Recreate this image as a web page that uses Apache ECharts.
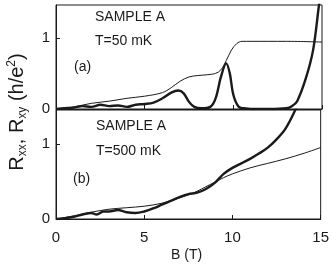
<!DOCTYPE html>
<html>
<head>
<meta charset="utf-8">
<script src="https://cdn.jsdelivr.net/npm/echarts@6/dist/echarts.min.js"></script>
<style>
  html, body { margin: 0; padding: 0; background: #fff; }
  #chart { width: 332px; height: 264px; }
</style>
</head>
<body>
<div id="chart"></div>
<script>
// (a) T=50 mK
const fieldA_xx = [0, 0.5, 1, 1.5, 2, 2.5, 3, 3.5, 4, 4.5, 5, 5.5, 6, 6.5, 6.9, 7.2, 7.5, 7.8, 8.2, 8.7, 9.0, 9.3, 9.6, 9.8, 10.0, 10.3, 10.6, 11, 12, 13, 13.3, 13.6, 14.1, 14.5, 14.8, 15.0];
const rxxA = [0, 0.01, 0.02, 0.04, 0.03, 0.06, 0.04, 0.05, 0.03, 0.06, 0.07, 0.09, 0.15, 0.23, 0.26, 0.22, 0.1, 0.03, 0.01, 0.03, 0.15, 0.45, 0.64, 0.5, 0.2, 0.03, 0.01, 0, 0, 0.01, 0.04, 0.11, 0.44, 0.83, 1.4, 1.8];
const fieldA_xy = [0, 1, 2, 3, 4, 5, 6, 6.5, 7, 7.5, 8, 8.5, 9, 9.3, 9.6, 9.9, 10.2, 10.5, 11, 13, 15];
const rxyA = [0, 0.03, 0.08, 0.11, 0.15, 0.18, 0.23, 0.3, 0.39, 0.45, 0.47, 0.48, 0.5, 0.55, 0.68, 0.83, 0.92, 0.95, 0.95, 0.95, 0.94];

// (b) T=500 mK
const fieldB_xx = [0, 0.5, 1, 1.5, 2, 2.3, 2.7, 3, 3.5, 4, 4.5, 5, 5.5, 6, 6.5, 7, 7.5, 8, 8.5, 9, 9.5, 10, 10.5, 11, 11.5, 12, 12.5, 13, 13.5, 14];
const rxxB = [0, 0.01, 0.03, 0.06, 0.08, 0.06, 0.1, 0.1, 0.12, 0.09, 0.08, 0.1, 0.14, 0.19, 0.24, 0.29, 0.33, 0.35, 0.4, 0.48, 0.6, 0.68, 0.74, 0.8, 0.87, 0.95, 1.06, 1.2, 1.42, 1.7];
const fieldB_xy = [0, 1, 2, 3, 4, 5, 6, 7, 7.5, 8, 8.5, 9, 9.5, 10, 11, 12, 13, 14, 15];
const rxyB = [0, 0.04, 0.09, 0.13, 0.15, 0.17, 0.21, 0.28, 0.32, 0.37, 0.43, 0.49, 0.55, 0.6, 0.68, 0.74, 0.8, 0.87, 0.95];

const xTicks = [0, 5, 10, 15];

const pairs = (xs, ys) => xs.map((x, i) => [x, ys[i]]);

let myChart = echarts.init(document.getElementById('chart'));

const ink = '#1a1a1a';
const font = 'Liberation Sans, Arial, sans-serif';

function xAxisOf (idx, showLabel) {
  return {
    type: 'value', gridIndex: idx, min: 0, max: 15, interval: 5,
    axisLine: { show: true, onZero: false, lineStyle: { color: ink, width: 1 } },
    axisTick: { show: true, inside: true, length: 4, lineStyle: { color: ink } },
    axisLabel: { show: showLabel, color: ink, fontSize: 15, fontFamily: font, margin: 11,
      formatter: v => xTicks.indexOf(v) >= 0 ? String(v) : '' },
    splitLine: { show: false }
  };
}
function yAxisOf (idx, max) {
  return {
    type: 'value', gridIndex: idx, min: 0, max: max, interval: 1,
    axisLine: { show: true, lineStyle: { color: ink, width: 1 } },
    axisTick: { show: true, inside: true, length: 4, lineStyle: { color: ink } },
    axisLabel: { color: ink, fontSize: 15, fontFamily: font, margin: 6, showMaxLabel: false },
    splitLine: { show: false }
  };
}
function line (xi, data, w) {
  return {
    type: 'line', xAxisIndex: xi, yAxisIndex: xi, data: data, smooth: 0.35,
    showSymbol: false, clip: true,
    lineStyle: { color: ink, width: w }
  };
}

const option = {
  animation: false,
  grid: [
    { left: 56, top: 5, width: 266, height: 104, show: true, borderColor: ink, borderWidth: 1 },
    { left: 56, top: 110, width: 266, height: 109, show: true, borderColor: ink, borderWidth: 1 }
  ],
  xAxis: [xAxisOf(0, false), xAxisOf(1, true)],
  yAxis: [yAxisOf(0, 1.46), yAxisOf(1, 1.45)],
  series: [
    line(0, pairs(fieldA_xy, rxyA), 1),
    line(0, pairs(fieldA_xx, rxxA), 2.4),
    line(1, pairs(fieldB_xy, rxyB), 1),
    line(1, pairs(fieldB_xx, rxxB), 2.4)
  ],
  graphic: [
    { type: 'text', left: 95, top: 10, style: { text: 'SAMPLE A', font: '14px ' + font, fill: ink } },
    { type: 'text', left: 95, top: 34, style: { text: 'T=50 mK', font: '14px ' + font, fill: ink } },
    { type: 'text', left: 74, top: 60, style: { text: '(a)', font: '14px ' + font, fill: ink } },
    { type: 'text', left: 96, top: 119, style: { text: 'SAMPLE A', font: '14px ' + font, fill: ink } },
    { type: 'text', left: 96, top: 144, style: { text: 'T=500 mK', font: '14px ' + font, fill: ink } },
    { type: 'text', left: 73, top: 172, style: { text: '(b)', font: '14px ' + font, fill: ink } },
    { type: 'text', left: 171, top: 248, style: { text: 'B (T)', font: '14px ' + font, fill: ink } },
    {
      type: 'text', x: 17, y: 112, rotation: Math.PI / 2,
      style: {
        text: '{r|R}{s|xx}{r|, R}{s|xy}{r| (h/e}{p|2}{r|)}',
        align: 'center', verticalAlign: 'middle', fill: ink,
        rich: {
          r: { fontSize: 20, fontFamily: font, fill: ink, verticalAlign: 'middle', lineHeight: 24 },
          s: { fontSize: 12, fontFamily: font, fill: ink, padding: [12, 0, 0, 0], lineHeight: 24 },
          p: { fontSize: 12, fontFamily: font, fill: ink, padding: [0, 0, 10, 0], lineHeight: 24 }
        }
      }
    }
  ]
};
myChart.setOption(option, true);
</script>
</body>
</html>
